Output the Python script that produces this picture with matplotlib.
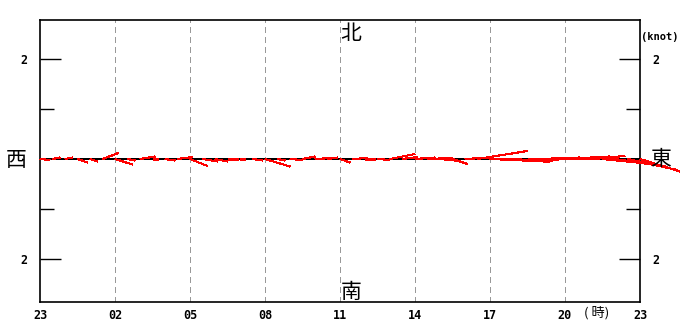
import matplotlib
matplotlib.use("Agg")
import matplotlib.pyplot as plt
import numpy as np

# time (hours since 23:00), eastward (u) and northward (v) current in knots
hours = [0, 0.5, 1, 1.5, 2, 2.5, 3, 3.5, 4, 4.5, 5, 5.5, 6, 6.5, 7, 7.5,
         8, 8.5, 9, 9.5, 10, 10.5, 11, 11.5, 12, 12.5, 13, 13.5, 14, 14.5,
         15, 15.5, 16, 16.5, 17, 17.5, 18, 18.5, 19, 19.5, 20, 20.5, 21,
         21.5, 22, 22.5, 23, 23.5, 24]
u_east = [0.20, 0.15, 0.15, 0.20, 0.15, 0.32, 0.35, 0.15, 0.30, 0.10, 0.20,
          0.30, 0.35, 0.30, 0.25, 0.20, 0.10, 0.20, 0.50, 0.15, 0.25, 0.25,
          0.35, 0.20, 0.20, 0.30, 0.20, 0.25, 0.50, 0.30, 0.40, 0.50, 0.40,
          0.30, 0.50, 1.00, 0.90, 1.00, 0.70, 0.60, 0.80, 0.90, 0.90, 0.80,
          0.70, 0.80, 1.00, 1.00, 0.80]
v_north = [-0.02, 0.03, 0.03, -0.07, -0.05, 0.12, -0.11, -0.03, 0.05, 0.00,
           -0.03, 0.04, -0.14, -0.05, -0.05, 0.00, 0.00, -0.03, -0.15, -0.03,
           -0.02, 0.05, 0.02, 0.03, -0.07, 0.02, 0.00, -0.02, 0.10, 0.04,
           0.03, 0.02, -0.04, -0.10, 0.03, 0.16, -0.04, -0.03, -0.06, 0.00,
           0.03, 0.02, 0.05, 0.02, 0.06, -0.08, -0.15, -0.22, -0.25]
xtick_labels = ["23", "02", "05", "08", "11", "14", "17", "20", "23"]

W, H = 680, 322
fig = plt.figure(figsize=(W / 100, H / 100), dpi=100)
ax = fig.add_axes([40 / W, 1 - 302 / H, 600 / W, 282 / H])
ax.set_xlim(0, 24)
ax.set_ylim(-2.86, 2.78)

cjk = ["Noto Sans CJK JP", "DejaVu Sans"]
mono = "DejaVu Sans Mono"

# grid
for gx in range(3, 24, 3):
    ax.axvline(gx, color="#999999", lw=1, ls=(0, (4, 3)), zorder=1,
               antialiased=False)

# baseline
ax.axhline(0, color="black", lw=1.2, zorder=2, antialiased=False)

# sticks: 1 knot = 2 hours horizontally (same pixel scale as vertical)
for t, u, v in zip(hours, u_east, v_north):
    ax.plot([t, t + 2 * u], [0, v], color="red", lw=0.8,
            solid_capstyle="butt", clip_on=False, zorder=3, antialiased=False)

# ticks
ax.set_xticks(range(0, 25, 3))
ax.set_xticklabels(xtick_labels, fontfamily=mono, fontweight="bold", fontsize=8.5)
ax.tick_params(axis="x", length=0, pad=5)
ax.set_yticks([-2, 2])
ax.set_yticks([-1, 1], minor=True)
ax.set_yticklabels(["2", "2"], fontfamily=mono, fontweight="bold", fontsize=8.5)
ax.tick_params(axis="y", which="major", direction="in", length=15, width=1,
               left=True, right=True, labelleft=True, labelright=True, pad=9)
ax.tick_params(axis="y", which="minor", direction="in", length=10, width=1,
               left=True, right=True)
for s in ax.spines.values():
    s.set_linewidth(1.2)

# compass labels
ax.text(0.518, 0.952, "北", transform=ax.transAxes, ha="center", va="center",
        fontsize=15, family=cjk)
ax.text(0.518, 0.035, "南", transform=ax.transAxes, ha="center", va="center",
        fontsize=15, family=cjk)
fig.text(16 / W, 1 - 160 / H, "西", ha="center", va="center", fontsize=15, family=cjk)
fig.text(661 / W, 1 - 159 / H, "東", ha="center", va="center", fontsize=15, family=cjk)
fig.text(660 / W, 1 - 37 / H, "(knot)", ha="center", va="center",
         fontsize=7.5, fontfamily=mono, fontweight="bold")
fig.text(597 / W, 1 - 313 / H, "( 時)", ha="center", va="center",
         fontsize=9.5, family=cjk)

fig.savefig("out.png", dpi=100)
